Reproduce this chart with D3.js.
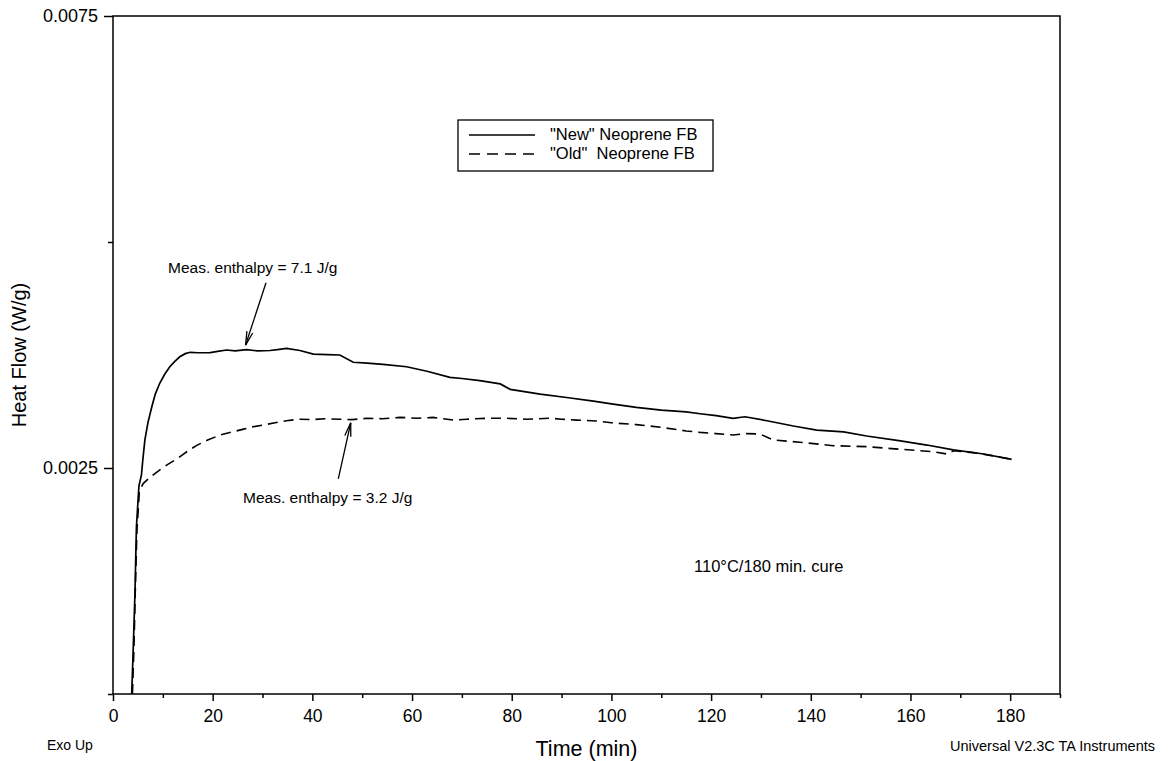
<!DOCTYPE html>
<html><head><meta charset="utf-8">
<script src="https://cdn.jsdelivr.net/npm/d3@7"></script>
<style>
body{margin:0;background:#fff}
svg text{font-family:"Liberation Sans",Arial,sans-serif;fill:#000}
</style>
</head><body>
<svg id="c" width="1173" height="761"></svg>
<script>
// ---- data ----
const xMajorTicks = [0, 20, 40, 60, 80, 100, 120, 140, 160, 180];
const xMinorTicks = [10, 30, 50, 70, 90, 110, 130, 150, 170, 190];
const yMajorTicks = [0.0025, 0.0075];
const yMinorTicks = [0, 0.005];
const seriesNames = ['"New" Neoprene FB', '"Old"\u00a0 Neoprene FB'];

// "New" Neoprene FB : [time (min), heat flow (W/g)]
const newSeries = [
  [3.75,0],[4.0,0.0004],[4.4,0.0011],[4.7,0.00185],[5.2,0.0023],[5.7,0.00242],[6.0,0.0026],
  [6.4,0.00281],[7.0,0.0030],[7.8,0.00318],[8.5,0.00332],[9.4,0.00344],[10.4,0.00354],
  [11.4,0.00362],[12.4,0.00368],[13.4,0.00373],[14.5,0.003765],[15.5,0.00378],[17,0.003775],
  [19.5,0.003777],[21,0.00379],[22.8,0.003805],[24.5,0.003795],[26.8,0.00381],[29,0.003795],
  [31.5,0.0038],[33,0.00381],[34.8,0.003824],[37.5,0.0038],[40.2,0.00376],[43,0.003755],
  [45.5,0.00375],[48.2,0.00367],[51,0.00366],[54.2,0.003647],[58.9,0.00362],[63,0.00357],
  [67.6,0.003503],[70,0.00349],[73.6,0.003466],[77.7,0.00343],[79.7,0.00337],[85.7,0.003318],
  [91,0.00328],[96.4,0.00324],[100,0.00321],[105,0.00317],[110,0.00314],[115,0.00312],
  [117.8,0.0031],[121,0.00308],[124.4,0.00305],[126.8,0.003067],[131.2,0.003023],[136.5,0.002965],
  [141.2,0.00292],[146.6,0.0029],[151.2,0.002854],[158,0.0028],[163.3,0.002754],[168.6,0.0027],
  [174.7,0.002655],[180.3,0.002596]
];

// "Old" Neoprene FB : [time (min), heat flow (W/g)]
const oldSeries = [
  [3.9,0],[4.2,0.0005],[4.5,0.0012],[4.8,0.0018],[5.3,0.00225],[6.1,0.00233],[7.5,0.0024],
  [9.4,0.00248],[11,0.00254],[12.8,0.0026],[14.8,0.00268],[16.8,0.00275],[19,0.00281],
  [21.5,0.002865],[24,0.0029],[26.2,0.00293],[28,0.002955],[30.2,0.002976],[32.5,0.003],
  [34.8,0.003023],[37.5,0.00304],[40,0.003035],[42.5,0.003045],[45.5,0.00304],[48,0.003035],
  [51,0.00305],[54,0.003045],[57.6,0.00306],[61,0.00305],[64.2,0.00306],[68.3,0.00303],
  [71,0.00304],[75,0.00305],[79,0.00305],[83,0.00304],[87.7,0.00305],[90,0.00304],[93,0.00303],
  [97,0.00302],[100,0.003],[105,0.00298],[110,0.00295],[115,0.00291],[117.8,0.002894],
  [121,0.00288],[124.4,0.002865],[127,0.00288],[129.8,0.002876],[132.5,0.00281],[137.8,0.002785],
  [144.5,0.002747],[151.2,0.002736],[158,0.002707],[164.6,0.00268],[167.3,0.002655],
  [168.6,0.00269],[172.6,0.00267],[176,0.00264],[180,0.0026]
];

// annotations: arrow tail [time, flow] and tip [time, flow]
const annotationLabels = ["Meas. enthalpy = 7.1 J/g", "Meas. enthalpy = 3.2 J/g"];
const annotationArrows = [[[30.7, 0.00455], [26.6, 0.00386]], [[45.2, 0.00238], [47.7, 0.0030]]];
const cureLabel = "110\u00b0C/180 min. cure";

// ---- chart ----
const svg = d3.select("#c");
const L = 113, R = 1060, T = 16, B = 694;
const x = d3.scaleLinear().domain([0, 190]).range([L, R]);
const y = d3.scaleLinear().domain([0, 0.0075]).range([B, T]);

// axes
const gxMaj = svg.append("g").attr("transform", `translate(0,${B})`)
  .call(d3.axisBottom(x).tickValues(xMajorTicks).tickSize(7).tickPadding(9).tickFormat(d3.format("d")));
const gxMin = svg.append("g").attr("transform", `translate(0,${B})`)
  .call(d3.axisBottom(x).tickValues(xMinorTicks).tickSize(4).tickFormat(""));
const gyMaj = svg.append("g").attr("transform", `translate(${L},0)`)
  .call(d3.axisLeft(y).tickValues(yMajorTicks).tickSize(9).tickPadding(6).tickFormat(d3.format(".4f")));
const gyMin = svg.append("g").attr("transform", `translate(${L},0)`)
  .call(d3.axisLeft(y).tickValues(yMinorTicks).tickSize(5).tickFormat(""));
[gxMaj, gxMin, gyMaj, gyMin].forEach(g => {
  g.select(".domain").remove();
  g.selectAll("line").attr("stroke", "#000").attr("stroke-width", 1.5);
  g.selectAll("text").attr("font-size", 17.5).attr("font-family", '"Liberation Sans",Arial,sans-serif').attr("fill", "#000");
});
gyMaj.selectAll("text").attr("font-size", 18);

// frame
svg.append("rect").attr("x", L).attr("y", T).attr("width", R - L).attr("height", B - T)
  .attr("fill", "none").attr("stroke", "#000").attr("stroke-width", 1.5);

// lines
const line = d3.line().x(d => x(d[0])).y(d => y(d[1]));
svg.append("path").datum(newSeries).attr("d", line)
  .attr("fill", "none").attr("stroke", "#000").attr("stroke-width", 1.7);
svg.append("path").datum(oldSeries).attr("d", line)
  .attr("fill", "none").attr("stroke", "#000").attr("stroke-width", 1.6).attr("stroke-dasharray", "10,6");

// legend
const lg = svg.append("g");
lg.append("rect").attr("x", 458).attr("y", 120).attr("width", 255).attr("height", 51)
  .attr("fill", "#fff").attr("stroke", "#000").attr("stroke-width", 1.3);
[0, 1].forEach(i => {
  const yy = 135 + i * 19;
  lg.append("line").attr("x1", 469).attr("x2", 535).attr("y1", yy).attr("y2", yy)
    .attr("stroke", "#000").attr("stroke-width", 1.5).attr("stroke-dasharray", i ? "11,7" : null);
  lg.append("text").attr("x", 550).attr("y", yy + 5).attr("font-size", 16.5).text(seriesNames[i]);
});

// annotations
svg.append("text").attr("x", 168).attr("y", 273).attr("font-size", 15.5).text(annotationLabels[0]);
svg.append("text").attr("x", 243).attr("y", 503).attr("font-size", 15.5).text(annotationLabels[1]);
function arrow(a) {
  const [t0, t1] = a;
  const x0 = x(t0[0]), y0 = y(t0[1]), x1 = x(t1[0]), y1 = y(t1[1]);
  const ang = Math.atan2(y1 - y0, x1 - x0);
  const hl = 14, ha = 0.22;
  const p = (s) => [x1 - hl * Math.cos(ang + s * ha), y1 - hl * Math.sin(ang + s * ha)];
  const g = svg.append("g").attr("stroke", "#000").attr("stroke-width", 1.3).attr("fill", "none");
  g.append("line").attr("x1", x0).attr("y1", y0).attr("x2", x1).attr("y2", y1);
  const a1 = p(1), a2 = p(-1);
  g.append("path").attr("d", `M${a1[0]},${a1[1]}L${x1},${y1}L${a2[0]},${a2[1]}`);
}
annotationArrows.forEach(arrow);

svg.append("text").attr("x", 694).attr("y", 572).attr("font-size", 16.5).text(cureLabel);

// axis titles and footers
svg.append("text").attr("x", (L + R) / 2).attr("y", 756).attr("text-anchor", "middle")
  .attr("font-size", 21.5).text("Time (min)");
svg.append("text").attr("transform", `translate(26,${(T + B) / 2}) rotate(-90)`)
  .attr("text-anchor", "middle").attr("font-size", 20).text("Heat Flow (W/g)");
svg.append("text").attr("x", 47).attr("y", 750).attr("font-size", 14).text("Exo Up");
svg.append("text").attr("x", 1155).attr("y", 751).attr("text-anchor", "end")
  .attr("font-size", 14.5).text("Universal V2.3C TA Instruments");
</script>
</body></html>
